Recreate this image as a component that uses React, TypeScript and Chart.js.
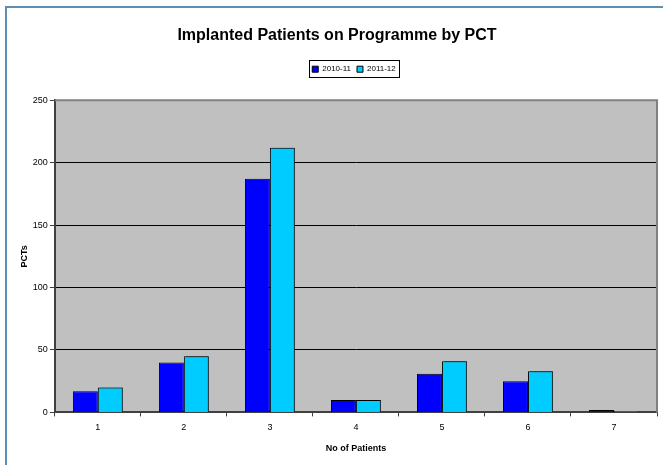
import React, { useEffect, useRef } from "react";
import { Chart, registerables } from "chart.js";

Chart.register(...registerables);

const categories = ["1", "2", "3", "4", "5", "6", "7"];
const series2010 = [17, 40, 187, 10, 31, 25, 2];
const series2011 = [20, 45, 212, 10, 41, 33, 1];
const seriesLabels = ["2010-11", "2011-12"];
const yTicks = [0, 50, 100, 150, 200, 250];

const FONT = "'Liberation Sans', Arial, sans-serif";
const LEGEND_SHIFT = 17;

const framePlugin = {
  id: "frame",
  beforeDraw(chart: any) {
    const { ctx, chartArea } = chart;
    ctx.save();
    ctx.fillStyle = "#ffffff";
    ctx.fillRect(0, 0, chart.width, chart.height);
    ctx.strokeStyle = "#5b8fb3";
    ctx.lineWidth = 2;
    ctx.strokeRect(6, 7, chart.width + 20, chart.height + 20);
    ctx.fillStyle = "#c0c0c0";
    ctx.fillRect(chartArea.left, chartArea.top, chartArea.right - chartArea.left, chartArea.bottom - chartArea.top);
    ctx.restore();
  },
  afterDatasetsDraw(chart: any) {
    const { ctx, chartArea } = chart;
    ctx.save();
    ctx.strokeStyle = "#808080";
    ctx.lineWidth = 2;
    ctx.beginPath();
    ctx.moveTo(chartArea.left, chartArea.top);
    ctx.lineTo(chartArea.right, chartArea.top);
    ctx.lineTo(chartArea.right, chartArea.bottom);
    ctx.stroke();
    ctx.restore();
  },
  afterDraw(chart: any) {
    const lg = chart.legend;
    if (!lg || !lg.legendHitBoxes || !lg.legendHitBoxes.length) return;
    const boxes = lg.legendHitBoxes;
    let l = Infinity, r = -Infinity, t = Infinity, b = -Infinity;
    for (const h of boxes) {
      l = Math.min(l, h.left);
      r = Math.max(r, h.left + h.width);
      t = Math.min(t, h.top);
      b = Math.max(b, h.top + h.height);
    }
    l += LEGEND_SHIFT;
    r += LEGEND_SHIFT;
    const { ctx } = chart;
    ctx.save();
    ctx.strokeStyle = "#000000";
    ctx.lineWidth = 1;
    ctx.strokeRect(Math.round(l - 3) + 0.5, Math.round(t - 5) + 0.5, Math.round(r - l + 6), Math.round(b - t + 9));
    ctx.restore();
  },
};

const shadowPlugin = {
  id: "barShadow",
  beforeDatasetDraw(chart: any, args: any) {
    if (args.index === 1) {
      const ctx = chart.ctx;
      ctx.save();
      ctx.shadowColor = "rgba(30,60,70,0.7)";
      ctx.shadowOffsetX = 2;
      ctx.shadowOffsetY = 0;
      ctx.shadowBlur = 0;
    }
  },
  afterDatasetDraw(chart: any, args: any) {
    if (args.index === 1) chart.ctx.restore();
  },
};

const legendTweak = {
  id: "legendTweak",
  beforeInit(chart: any) {
    const lg = chart.legend;
    if (!lg) return;
    const origFit = lg.fit;
    lg.fit = function () {
      origFit.call(this);
      this.height += 17;
    };
    const origDraw = lg.draw;
    lg.draw = function () {
      const ctx = this.ctx;
      ctx.save();
      ctx.translate(LEGEND_SHIFT, 0);
      origDraw.call(this);
      ctx.restore();
    };
  },
};

export default function App() {
  const ref = useRef<HTMLCanvasElement | null>(null);
  useEffect(() => {
    if (!ref.current) return;
    const chart = new Chart(ref.current, {
      type: "bar",
      data: {
        labels: categories,
        datasets: [
          {
            label: seriesLabels[0],
            data: series2010,
            backgroundColor: "#0000ff",
            borderColor: "#000000",
            borderWidth: 1,
          },
          {
            label: seriesLabels[1],
            data: series2011,
            backgroundColor: "#00ccff",
            borderColor: "#000000",
            borderWidth: 1,
          },
        ],
      },
      options: {
        responsive: false,
        animation: false,
        devicePixelRatio: 1,
        layout: { padding: { left: 17, right: 6, top: 16, bottom: 7 } },
        datasets: { bar: { categoryPercentage: 0.58, barPercentage: 1 } } as any,
        plugins: {
          title: {
            display: true,
            text: "Implanted Patients on Programme by PCT",
            color: "#000000",
            font: { family: FONT, size: 16, weight: "bold" },
            padding: { top: 10, bottom: 14 },
          },
          legend: {
            display: true,
            position: "top",
            labels: {
              color: "#000000",
              font: { family: FONT, size: 8 },
              boxWidth: 6,
              boxHeight: 6,
              padding: 6,
            },
          },
          tooltip: { enabled: false },
        },
        scales: {
          x: {
            grid: {
              offset: true,
              drawOnChartArea: false,
              drawTicks: true,
              tickLength: 4,
              tickColor: "#404040",
              tickWidth: 1,
            },
            border: { color: "#404040", width: 2 },
            ticks: { color: "#000000", font: { family: FONT, size: 9 }, padding: 6 },
            title: {
              display: true,
              text: "No of Patients",
              color: "#000000",
              font: { family: FONT, size: 9, weight: "bold" },
              padding: { top: 4, bottom: 4 },
            },
          },
          y: {
            min: 0,
            max: 250,
            afterBuildTicks(scale: any) {
              scale.ticks = yTicks.map((v) => ({ value: v }));
            },
            grid: {
              color: (c: any) => (c.tick && c.tick.value === 250 ? "rgba(0,0,0,0)" : "#000000"),
              lineWidth: 1,
              tickLength: 5,
              tickColor: "#404040",
            },
            border: { color: "#404040", width: 2 },
            ticks: { color: "#000000", font: { family: FONT, size: 9 }, padding: 2 },
            title: {
              display: true,
              text: "PCTs",
              color: "#000000",
              font: { family: FONT, size: 9, weight: "bold" },
              padding: { top: 2, bottom: 1 },
            },
          },
        },
      },
      plugins: [framePlugin, shadowPlugin, legendTweak],
    });
    return () => chart.destroy();
  }, []);
  return (
    <div style={{ position: "absolute", left: 0, top: 0, width: 663, height: 465 }}>
      <canvas ref={ref} width={663} height={465} style={{ display: "block" }} />
    </div>
  );
}
